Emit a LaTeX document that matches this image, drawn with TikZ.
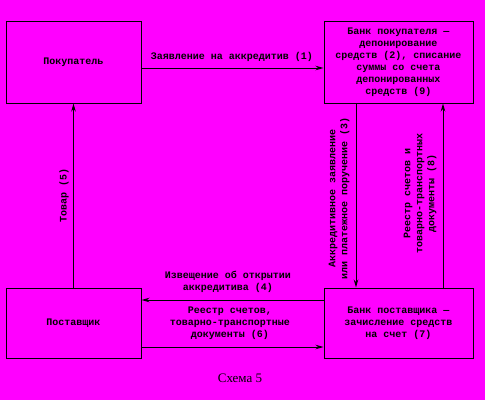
\documentclass[tikz,border=0pt]{standalone}
\usepackage{fontspec}
\setmainfont{Liberation Serif}
\setmonofont{Liberation Mono}
\usepackage{tikz}
\usetikzlibrary{arrows.meta,positioning}
\usepackage{xcolor}
\definecolor{scanmag}{RGB}{255,0,255}

\begin{document}
\begin{tikzpicture}[x=1pt, y=-1pt,
    party/.style={draw, line width=1pt, inner sep=0pt, align=center, font=\ttfamily\bfseries\fontsize{10}{12}\selectfont},
    lab/.style={inner sep=1pt, align=center, font=\ttfamily\bfseries\fontsize{10}{12}\selectfont},
    flow/.style={line width=1pt, -{Stealth[length=8pt,width=4.5pt]}},
    >=Stealth
]
\fill[scanmag] (0,0) rectangle (485,400);
\useasboundingbox (0,0) rectangle (485,400);

% participants
\node[party, minimum width=135pt, minimum height=82pt] (pok) at (73.5, 62) {Покупатель};
\node[party, minimum width=149pt, minimum height=82pt] (bankpok) at (398.5, 62)
    {Банк покупателя —\\депонирование\\средств (2), списание\\суммы со счета\\депонированных\\средств (9)};
\node[party, minimum width=135pt, minimum height=70pt] (post) at (73.5, 323) {Поставщик};
\node[party, minimum width=149pt, minimum height=70pt] (bankpost) at (398.5, 323)
    {Банк поставщика —\\зачисление средств\\на счет (7)};

% flows
\draw[flow] ([yshift=-6pt]pok.east) -- ([yshift=-6pt]bankpok.west);
\draw[flow] ([xshift=-42.5pt]bankpok.south) -- ([xshift=-42.5pt]bankpost.north);
\draw[flow] ([xshift=44.5pt]bankpost.north) -- ([xshift=44.5pt]bankpok.south);
\draw[flow] (post.north) -- (pok.south);
\draw[flow] ([yshift=23pt]bankpost.west) -- ([yshift=23pt]post.east);
\draw[flow] ([yshift=-24pt]post.east) -- ([yshift=-24pt]bankpost.west);

% labels
\node[lab] (l1) at (232, 57) {Заявление на аккредитив (1)};
\node[lab, rotate=90] (l3) at (339, 198) {Аккредитивное заявление\\или платежное поручение (3)};
\node[lab] (l4) at (228, 282) {Извещение об открытии\\аккредитива (4)};
\node[lab, rotate=90] (l5) at (64, 195) {Товар (5)};
\node[lab] (l6) at (230, 323) {Реестр счетов,\\товарно-транспортные\\документы (6)};
\node[lab, rotate=90] (l8) at (420, 193) {Реестр счетов и\\товарно-транспортных\\документы (8)};

\node[font=\fontsize{13}{15}\selectfont] (cap) at (240, 378) {Схема 5};
\end{tikzpicture}
\end{document}
